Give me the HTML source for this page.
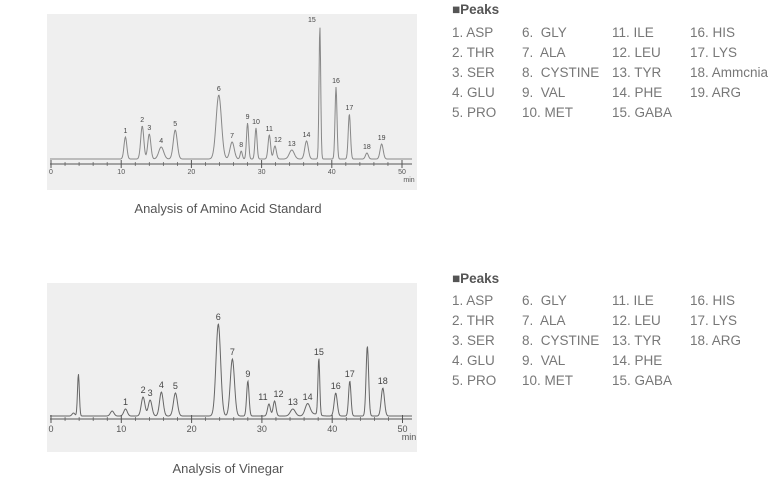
<!DOCTYPE html>
<html><head><meta charset="utf-8"><style>
body{margin:0;width:781px;height:487px;background:#fff;font-family:"Liberation Sans",sans-serif;position:relative;overflow:hidden}
.t{position:absolute;font-size:13.5px;color:#777;white-space:pre;line-height:20px}
.h{position:absolute;font-size:13.5px;font-weight:bold;color:#555}
.cap{position:absolute;font-size:13px;color:#555;text-align:center;width:380px}
svg{position:absolute;left:0;top:0}
</style></head><body>
<svg id="s" width="781" height="487"></svg>
<div class="h" style="left:452px;top:2px">■Peaks</div>
<div class="t" style="left:452px;top:23px">1. ASP
2. THR
3. SER
4. GLU
5. PRO</div>
<div class="t" style="left:522px;top:23px">6.  GLY
7.  ALA
8.  CYSTINE
9.  VAL
10. MET</div>
<div class="t" style="left:612px;top:23px">11. ILE
12. LEU
13. TYR
14. PHE
15. GABA</div>
<div class="t" style="left:690px;top:23px">16. HIS
17. LYS
18. Ammcnia
19. ARG</div>
<div class="cap" style="left:38px;top:201px">Analysis of Amino Acid Standard</div>
<div class="h" style="left:452px;top:271px">■Peaks</div>
<div class="t" style="left:452px;top:291px">1. ASP
2. THR
3. SER
4. GLU
5. PRO</div>
<div class="t" style="left:522px;top:291px">6.  GLY
7.  ALA
8.  CYSTINE
9.  VAL
10. MET</div>
<div class="t" style="left:612px;top:291px">11. ILE
12. LEU
13. TYR
14. PHE
15. GABA</div>
<div class="t" style="left:690px;top:291px">16. HIS
17. LYS
18. ARG</div>
<div class="cap" style="left:38px;top:461px">Analysis of Vinegar</div>
<script>
var S=document.getElementById("s"),h="";
function chart(o){
 h+='<rect x="47" y="'+o.top+'" width="370" height="'+o.h+'" fill="#efefef"/>';
 var X=function(t){return o.x0+t*o.k};
 var d="";
 for(var px=50;px<=412;px+=0.5){var t=(px-o.x0)/o.k,y=0;
  o.p.forEach(function(p){y+=p[1]*Math.exp(-Math.pow((t-p[0])/p[2],2)/2)});
  d+=(d?"L":"M")+px+","+(o.base-y).toFixed(2);}
 h+='<path d="'+d+'" fill="none" stroke="'+o.lc+'" stroke-width="1"/>';
 h+='<line x1="50" x2="412" y1="'+o.ax+'" y2="'+o.ax+'" stroke="#555" stroke-width="1"/>';
 for(var t=0;t<=51;t+=2){var big=t%10==0;h+='<line x1="'+X(t)+'" x2="'+X(t)+'" y1="'+(o.ax-(big?4:2))+'" y2="'+(o.ax+(big?4:2))+'" stroke="#555" stroke-width="'+(big?1:0.7)+'"/>';
  if(big)h+='<text x="'+X(t)+'" y="'+(o.ax+o.ly)+'" font-size="'+o.fs+'" fill="#555" text-anchor="middle">'+t+'</text>';}
 h+='<text x="409" y="'+(o.ax+o.ly+8)+'" font-size="'+o.fs+'" fill="#555" text-anchor="middle">min</text>';
 o.p.forEach(function(p){if(p[3])h+='<text x="'+(X(p[0])+(p[4]||0))+'" y="'+(o.base-p[1]-4)+'" font-size="'+o.lfs+'" fill="#444" text-anchor="middle">'+p[3]+'</text>';});
}
chart({top:14,h:176,x0:51,k:7.02,base:159,ax:164,ly:10,fs:7,lfs:7,lc:"#888",p:[
[10.6,22,.2,"1"],[13,33,.22,"2"],[14,25,.22,"3"],[15.7,12,.35,"4"],[17.7,29,.28,"5"],[23.9,64,.38,"6"],[25.8,17,.3,"7"],[27.1,8,.15,"8"],[28,36,.15,"9"],[29.2,31,.15,"10"],[31.1,24,.18,"11"],[31.9,13,.2,"12",3],[34.3,9,.35,"13"],[36.4,18,.25,"14"],[38.3,133,.12,"15",-8],[40.6,72,.14,"16"],[42.5,45,.16,"17"],[45,6,.2,"18"],[47.1,15,.22,"19"]]});
chart({top:283,h:169,x0:51,k:7.03,base:416,ax:419,ly:13,fs:9,lfs:9,lc:"#666",p:[
[3.9,42,.13],[3.2,3,.2],[8.7,5,.25],[10.6,7,.25,"1"],[13.1,19,.26,"2"],[14.1,16,.26,"3"],[15.7,24,.26,"4"],[17.7,23,.28,"5"],[23.8,92,.33,"6"],[25.8,57,.3,"7"],[28,35,.17,"9"],[31,12,.2,"11",-6],[31.8,15,.2,"12",4],[34.4,7,.35,"13"],[36.5,12,.35,"14"],[37.5,2,.6],[38.1,57,.13,"15"],[40.5,23,.22,"16"],[42.5,35,.17,"17"],[45,70,.18],[47.2,28,.23,"18"]]});
S.innerHTML=h;
</script>
</body></html>
